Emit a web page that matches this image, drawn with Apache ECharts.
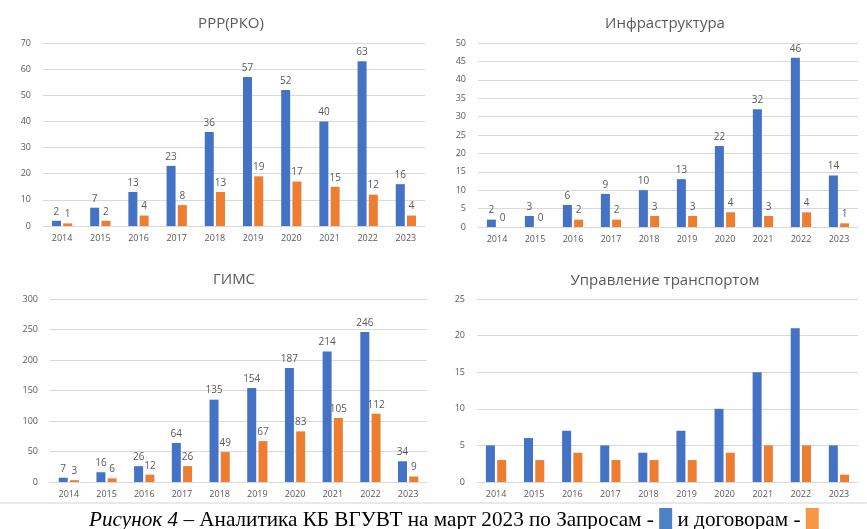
<!DOCTYPE html>
<html>
<head>
<meta charset="utf-8">
<script src="https://cdn.jsdelivr.net/npm/echarts@6/dist/echarts.min.js"></script>
<style>
    html, body { margin: 0; padding: 0; background: #fff; }
    #main { width: 867px; height: 529px; }
</style>
</head>
<body>
<div id="main"></div>
<script>
// годы
const years = ['2014', '2015', '2016', '2017', '2018', '2019', '2020', '2021', '2022', '2023']

// запросы (синие) и договоры (оранжевые) по направлениям
const rkoRequests = [2, 7, 13, 23, 36, 57, 52, 40, 63, 16]
const rkoContracts = [1, 2, 4, 8, 13, 19, 17, 15, 12, 4]
const infraRequests = [2, 3, 6, 9, 10, 13, 22, 32, 46, 14]
const infraContracts = [0, 0, 2, 2, 3, 3, 4, 3, 4, 1]
const gimsRequests = [7, 16, 26, 64, 135, 154, 187, 214, 246, 34]
const gimsContracts = [3, 6, 12, 26, 49, 67, 83, 105, 112, 9]
const transRequests = [5, 6, 7, 5, 4, 7, 10, 15, 21, 5]
const transContracts = [3, 3, 4, 3, 3, 3, 4, 5, 5, 1]

const titles = ['РРР(РКО)', 'Инфраструктура', 'ГИМС', 'Управление транспортом']
const yMax = [70, 50, 300, 25]
const yStep = [10, 5, 50, 5]

const blue = '#4472c4'
const orange = '#ed7d31'
const font = '"Open Sans", "Noto Sans", sans-serif'
const serif = '"Liberation Serif", serif'

const grids = [
    { left: 43, right: 442, top: 43, bottom: 303 },
    { left: 478, right: 9, top: 43, bottom: 302 },
    { left: 50, right: 440, top: 299, bottom: 47 },
    { left: 477, right: 9, top: 299, bottom: 47 }
]
const titleX = [226, 660, 229, 660]
const titleY = [11, 11, 267, 268]

const pairs = [
    [rkoRequests, rkoContracts, true],
    [infraRequests, infraContracts, true],
    [gimsRequests, gimsContracts, true],
    [transRequests, transContracts, false]
]

const myChart = echarts.init(document.getElementById('main'))

const option = {
    animation: false,
    title: titles.map((t, i) => ({
        text: t,
        left: titleX[i],
        top: titleY[i],
        textAlign: 'center',
        textStyle: { color: '#595959', fontSize: 15, fontWeight: 'normal', fontFamily: font }
    })).concat([{
        text: '{i|Рисунок 4} – Аналитика КБ ВГУВТ на март 2023 по Запросам - {b|} и договорам - {o|}',
        left: 84,
        top: 503,
        textStyle: {
            fontFamily: serif,
            fontSize: 21.2,
            fontWeight: 'normal',
            color: '#000',
            rich: {
                i: { fontStyle: 'italic', fontFamily: serif, fontSize: 21.2, color: '#000' },
                b: { backgroundColor: '#4f81c6', width: 13, height: 24 },
                o: { backgroundColor: '#f79646', width: 13, height: 24 }
            }
        }
    }]),
    graphic: [{
        type: 'line',
        shape: { x1: 0, y1: 503, x2: 867, y2: 503 },
        style: { stroke: '#d4d4d4', lineWidth: 1 }
    }],
    grid: grids,
    xAxis: grids.map((g, i) => ({
        type: 'category',
        gridIndex: i,
        data: years,
        axisTick: { show: false },
        axisLine: { lineStyle: { color: '#d9d9d9' } },
        axisLabel: { color: '#595959', fontSize: 9, fontFamily: font, margin: 8 }
    })),
    yAxis: grids.map((g, i) => ({
        type: 'value',
        gridIndex: i,
        min: 0,
        max: yMax[i],
        interval: yStep[i],
        axisLine: { show: false },
        axisTick: { show: false },
        axisLabel: { color: '#595959', fontSize: 9, fontFamily: font, margin: 12 },
        splitLine: { lineStyle: { color: '#d9d9d9' } }
    })),
    series: []
}

pairs.forEach((p, i) => {
    const label = {
        show: p[2],
        position: 'top',
        distance: 4,
        color: '#595959',
        fontSize: 10,
        fontFamily: font
    }
    option.series.push({
        type: 'bar',
        xAxisIndex: i,
        yAxisIndex: i,
        data: p[0],
        barWidth: 9,
        barGap: '25%',
        itemStyle: { color: blue },
        label: label
    })
    option.series.push({
        type: 'bar',
        xAxisIndex: i,
        yAxisIndex: i,
        data: p[1],
        barWidth: 9,
        barGap: '25%',
        itemStyle: { color: orange },
        label: label
    })
})

myChart.setOption(option)
</script>
</body>
</html>
